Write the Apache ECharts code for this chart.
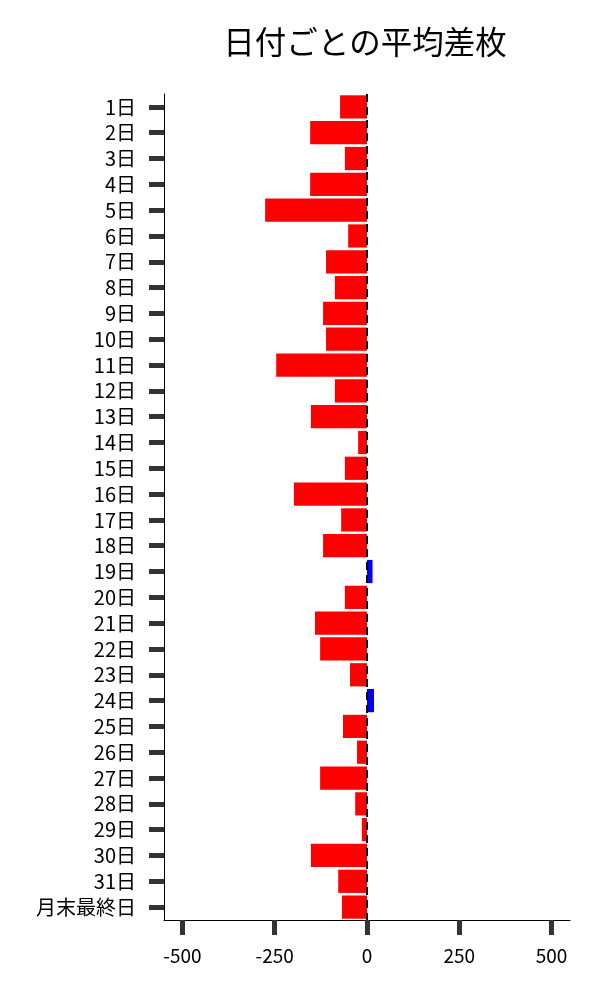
<!DOCTYPE html>
<html>
<head>
<meta charset="utf-8">
<script src="https://cdn.jsdelivr.net/npm/echarts@6/dist/echarts.min.js"></script>
<style>
html,body{margin:0;padding:0;background:#fff;}
#chart{width:600px;height:1000px;}
</style>
</head>
<body>
<div id="chart"></div>
<script>
const categories = ['1日','2日','3日','4日','5日','6日','7日','8日','9日','10日','11日','12日','13日','14日','15日','16日','17日','18日','19日','20日','21日','22日','23日','24日','25日','26日','27日','28日','29日','30日','31日','月末最終日'];
const values = [-73,-154,-60,-154,-276,-51,-111,-87,-119,-111,-246,-87,-152,-24,-60,-198,-70,-119,15,-60,-141,-127,-46,19,-65,-27,-127,-32,-14,-152,-78,-68];
const xTicks = [-500,-250,0,250,500];
const titleText = '日付ごとの平均差枚';

const FONT = '"Noto Sans CJK JP", "Noto Sans", sans-serif';
const chart = echarts.init(document.getElementById('chart'), null, {renderer:'canvas'});
chart.setOption({
  backgroundColor:'#fff',
  animation:false,
  title:{
    text:titleText,
    left:360, top:21, textAlign:'center',
    textStyle:{fontFamily:FONT, fontSize:31.5, fontWeight:'normal', color:'#000'}
  },
  grid:{left:164, right:30, top:94, bottom:80, containLabel:false},
  xAxis:{
    type:'value', min:-550, max:550,
    splitLine:{show:false},
    axisLine:{show:true, onZero:false, lineStyle:{color:'#000', width:1}},
    axisTick:{show:true, length:15, customValues:xTicks, lineStyle:{color:'#333', width:5}},
    axisLabel:{customValues:xTicks, margin:26, fontFamily:FONT, fontSize:19, color:'#000'}
  },
  yAxis:{
    type:'category', data:categories, inverse:true,
    axisLine:{show:true, onZero:false, lineStyle:{color:'#000', width:1}},
    axisTick:{show:true, alignWithLabel:true, interval:0, length:15, lineStyle:{color:'#333', width:5}},
    axisLabel:{interval:0, margin:28, fontFamily:FONT, fontSize:20, color:'#000'},
    splitLine:{show:false}
  },
  series:[{
    type:'bar',
    data:values.map(v=>({value:v, itemStyle:{color: v>=0 ? '#0000ff' : '#ff0000'}})),
    barCategoryGap:'10%',
    markLine:{
      silent:true, symbol:['none','none'], label:{show:false},
      lineStyle:{color:'#000', type:[8,5], width:2},
      data:[{xAxis:0}]
    }
  }]
});
</script>
</body>
</html>
